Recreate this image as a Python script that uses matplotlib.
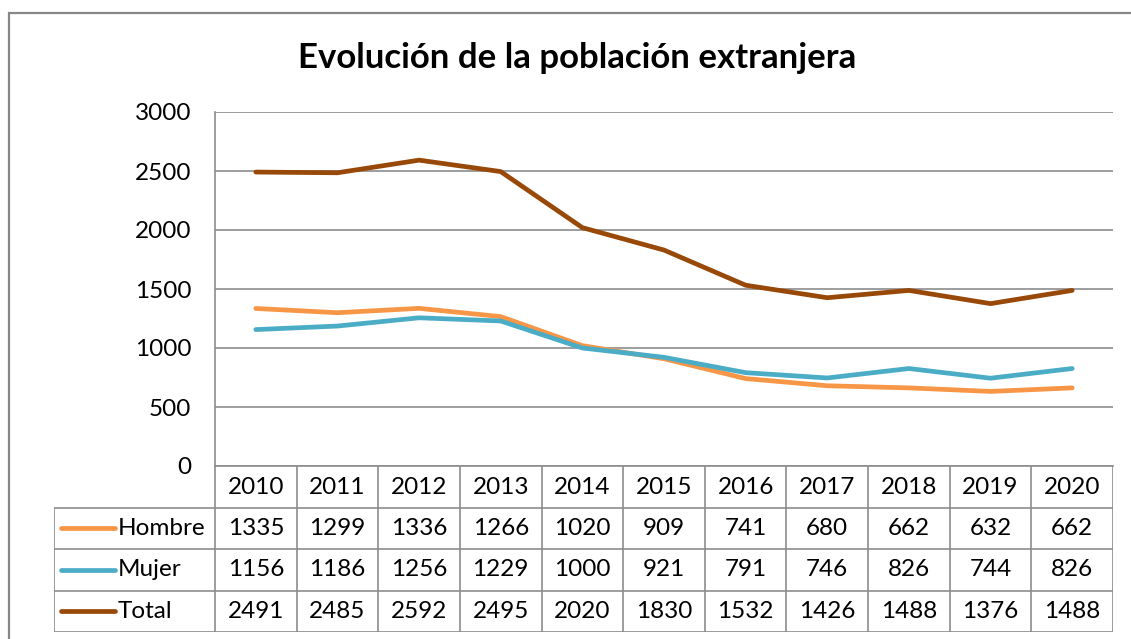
import matplotlib
matplotlib.use("Agg")
import matplotlib.pyplot as plt
from matplotlib.patches import Rectangle

plt.rcParams['font.family'] = ['Lato', 'DejaVu Sans']

years = ["2010", "2011", "2012", "2013", "2014", "2015", "2016", "2017", "2018", "2019", "2020"]
hombre = [1335, 1299, 1336, 1266, 1020, 909, 741, 680, 662, 632, 662]
mujer = [1156, 1186, 1256, 1229, 1000, 921, 791, 746, 826, 744, 826]
total = [2491, 2485, 2592, 2495, 2020, 1830, 1532, 1426, 1488, 1376, 1488]
series_names = ["Hombre", "Mujer", "Total"]
series_values = [hombre, mujer, total]
colors = ["#F79646", "#4BACC6", "#984807"]
yticks = [0, 500, 1000, 1500, 2000, 2500, 3000]

W, H = 1131, 639
fig = plt.figure(figsize=(W / 100, H / 100), dpi=100)
fig.patch.set_facecolor("white")

def fx(px):
    return px / W

def fy(py):
    return 1 - py / H

grid_c = "#8C8C8C"
fs = 17.5
lw_series = 3.4

# outer chart border (cropped)
fig.patches.append(Rectangle((fx(9), fy(700)), fx(1200), fy(13) - fy(700),
                             transform=fig.transFigure, fill=False,
                             edgecolor="#878787", linewidth=1.6))

# main plot axes
L, R, T, B = 215, 1113, 112, 466
ax = fig.add_axes([fx(L), fy(B), fx(R) - fx(L), fy(T) - fy(B)])
n = len(years)
x = list(range(n))
for vals, c in zip(series_values, colors):
    ax.plot(x, vals, color=c, linewidth=lw_series, solid_capstyle="round", zorder=3)
ax.set_xlim(-0.5, n - 0.5)
ax.set_ylim(0, 3000)
ax.set_yticks(yticks)
ax.set_yticklabels([str(v) for v in yticks], fontsize=fs)
ax.tick_params(axis="y", length=0, pad=17)
ax.set_xticks([])
ax.yaxis.grid(True, color=grid_c, linewidth=1.2)
ax.set_axisbelow(True)
for s in ["top", "right"]:
    ax.spines[s].set_visible(False)
ax.spines["left"].set_color(grid_c)
ax.spines["left"].set_linewidth(1.2)
ax.spines["bottom"].set_color(grid_c)
ax.spines["bottom"].set_linewidth(1.2)

fig.text(fx(577), fy(58), "Evolución de la población extranjera", ha="center",
         va="center", fontsize=25, fontweight="bold")

# data table axes
TL, TB = 54, 632
unit = (R - L) / n
left_ext = (L - TL) / unit
tax = fig.add_axes([fx(TL), fy(TB), fx(R) - fx(TL), fy(B) - fy(TB)])
tax.set_xlim(-0.5 - left_ext, n - 0.5)
tax.set_ylim(0, 4)
tax.axis("off")
xl = -0.5 - left_ext
for yy in [0, 1, 2, 3]:
    tax.plot([xl, n - 0.5], [yy, yy], color=grid_c, lw=1.2)
for i in range(n + 1):
    tax.plot([i - 0.5, i - 0.5], [0, 4], color=grid_c, lw=1.2)
tax.plot([xl, xl], [0, 3], color=grid_c, lw=1.2)

for i, yv in enumerate(years):
    tax.text(i, 3.48, yv, ha="center", va="center", fontsize=fs)
for r, (name, vals, c) in enumerate(zip(series_names, series_values, colors)):
    yc = 2.5 - r
    tax.plot([xl + 7 / unit, xl + 61 / unit], [yc, yc], color=c, lw=lw_series,
             solid_capstyle="round")
    tax.text(xl + 64 / unit, yc, name, ha="left", va="center", fontsize=fs)
    for i, v in enumerate(vals):
        tax.text(i, yc, str(v), ha="center", va="center", fontsize=fs)

fig.savefig("out.png", dpi=100, facecolor="white")
